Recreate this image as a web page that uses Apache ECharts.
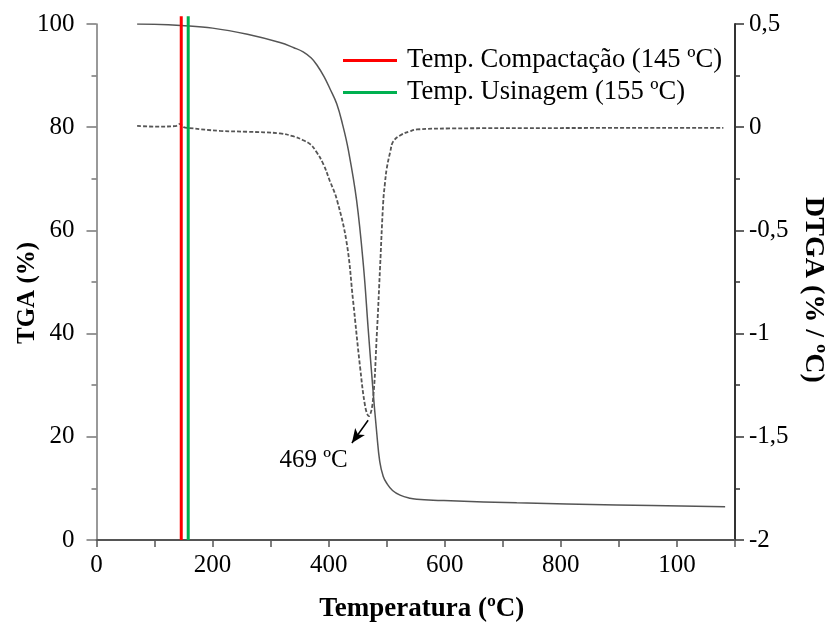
<!DOCTYPE html>
<html>
<head>
<meta charset="utf-8">
<script src="https://cdn.jsdelivr.net/npm/echarts@6/dist/echarts.min.js"></script>
<style>
html,body{margin:0;padding:0;background:#fff;}
#c{width:827px;height:626px;}
</style>
</head>
<body>
<div id="c"></div>
<script>
// ---- data ----
var tgaTemp = [70,100,145,200,260,316,340,356,370,380,392,402,414,424,434,448,460,468,476,483,488,494,500,510,523,540,552,580,610,724,896,1083];
var tgaMass = [100,99.95,99.7,99.2,98.0,96.4,95.4,94.6,93.4,92.0,89.8,87.5,84.5,80.5,75.5,65.9,53,41,29.5,20.5,15.2,12.3,11,9.6,8.7,8.1,7.9,7.7,7.6,7.2,6.8,6.45];

var dtgaTemp = [70,100,135,144,150,160,213,260,316,340,356,368,379,391,402,414,431,442,454,463,469,476,483,488.5,494,497,500,506,511,523,540,552,609,800,1080];
var dtgaVal  = [0.006,0.003,0.005,0.016,0.0,-0.004,-0.018,-0.022,-0.03,-0.045,-0.063,-0.082,-0.12,-0.18,-0.26,-0.35,-0.56,-0.84,-1.16,-1.355,-1.40,-1.33,-1.0,-0.68,-0.36,-0.27,-0.2,-0.12,-0.07,-0.04,-0.02,-0.011,-0.006,-0.004,-0.003];

var vlineNames = ['Temp. Compactação (145 ºC)', 'Temp. Usinagem (155 ºC)'];
var vlineTemps = [146, 158];
var vlineSpan  = [0, 101.5];
var vlineColors = ['#ff0000', '#00b050'];

var peakTemp = 469, peakVal = -1.42;
var arrowEnd = [440, -1.53];
var peakLabelPos = [374, -1.615];
var peakLabel = '469 ºC';

var xTicks = [0,200,400,600,800,1000];
var xTickLabels = ['0','200','400','600','800','100'];

var FONT = 'Liberation Serif';

function pairs(xs, ys){ return xs.map(function(x,i){ return [x, ys[i]]; }); }

var series = [];
vlineNames.forEach(function(n, i){
  series.push({
    name: n, type: 'line', xAxisIndex: 0, yAxisIndex: 0,
    data: vlineSpan.map(function(v){ return [vlineTemps[i], v]; }),
    showSymbol: false, symbol: 'none', clip: false, silent: true,
    lineStyle: {color: vlineColors[i], width: 3},
    itemStyle: {color: vlineColors[i]},
    z: 5
  });
});
series.push({
  name: 'TGA', type: 'line', yAxisIndex: 0,
  data: pairs(tgaTemp, tgaMass), smooth: 0.4,
  showSymbol: false, symbol: 'none',
  lineStyle: {color: '#555', width: 1.5}
});
series.push({
  name: 'DTGA', type: 'line', yAxisIndex: 1,
  data: pairs(dtgaTemp, dtgaVal), smooth: 0.4,
  showSymbol: false, symbol: 'none',
  lineStyle: {color: '#555', width: 1.8, type: [4, 2]},
  markLine: {
    silent: true, symbol: ['none', 'arrow'], symbolSize: [9, 14],
    lineStyle: {color: '#000', width: 1.5, type: 'solid'},
    label: {show: false},
    data: [[{coord: [peakTemp - 1, peakVal]}, {coord: arrowEnd}]]
  },
  markPoint: {
    silent: true, symbol: 'circle', symbolSize: 1,
    itemStyle: {color: 'rgba(0,0,0,0)'},
    label: {show: true, position: 'inside', color: '#000', fontFamily: FONT, fontSize: 25, formatter: peakLabel},
    data: [{coord: peakLabelPos}]
  }
});

var chart = echarts.init(document.getElementById('c'), null, {renderer: 'canvas'});
chart.setOption({
  animation: false,
  backgroundColor: '#fff',
  grid: {left: 96.5, right: 92, top: 24, bottom: 86, containLabel: false, outerBoundsMode: 'none'},
  legend: {
    data: vlineNames, orient: 'vertical', left: 338, top: 42,
    icon: 'rect', itemWidth: 54, itemHeight: 3, itemGap: 5,
    textStyle: {fontFamily: FONT, fontSize: 26.6, color: '#000', padding: [0, 0, 0, 5]},
    selectedMode: false
  },
  xAxis: {
    type: 'value', min: 0, max: 1100, interval: 100,
    name: 'Temperatura (ºC)', nameLocation: 'middle', nameGap: 56,
    nameTextStyle: {fontFamily: FONT, fontSize: 27, fontWeight: 'bold', color: '#000', padding: [0, 0, 0, 12]},
    axisLine: {show: true, onZero: false, lineStyle: {color: '#555', width: 2}},
    axisTick: {show: true, length: 7, lineStyle: {color: '#555', width: 1.5}},
    axisLabel: {
      fontFamily: FONT, fontSize: 25, color: '#000', margin: 13,
      formatter: function(v){ var i = xTicks.indexOf(v); return i >= 0 ? xTickLabels[i] : ''; }
    },
    splitLine: {show: false}
  },
  yAxis: [{
    type: 'value', min: 0, max: 100, interval: 20, position: 'left',
    name: 'TGA (%)', nameLocation: 'middle', nameGap: 56, nameMoveOverlap: false,
    nameTextStyle: {fontFamily: FONT, fontSize: 25, fontWeight: 'bold', color: '#000', padding: [0, 22, 0, 0]},
    axisLine: {show: true, lineStyle: {color: '#777', width: 1.5}},
    axisTick: {show: true, length: 10, lineStyle: {color: '#777', width: 1.5}},
    minorTick: {show: true, splitNumber: 2, length: 5, lineStyle: {color: '#777', width: 1.5}},
    axisLabel: {fontFamily: FONT, fontSize: 25, color: '#000', margin: 22},
    splitLine: {show: false}
  }, {
    type: 'value', min: -2, max: 0.5, interval: 0.5, position: 'right',
    name: 'DTGA (% / ºC)', nameLocation: 'middle', nameGap: 64, nameRotate: -90,
    nameTextStyle: {fontFamily: FONT, fontSize: 28, fontWeight: 'bold', color: '#000', padding: [0, 0, 0, 16]},
    axisLine: {show: true, lineStyle: {color: '#333', width: 2}},
    axisTick: {show: true, length: 9, lineStyle: {color: '#333', width: 1.5}},
    minorTick: {show: true, splitNumber: 2, length: 5, lineStyle: {color: '#333', width: 1.5}},
    axisLabel: {
      fontFamily: FONT, fontSize: 25, color: '#000', margin: 14,
      formatter: function(v){ return String(Math.round(v * 10) / 10).replace('.', ','); }
    },
    splitLine: {show: false}
  }],
  series: series
});
</script>
</body>
</html>
